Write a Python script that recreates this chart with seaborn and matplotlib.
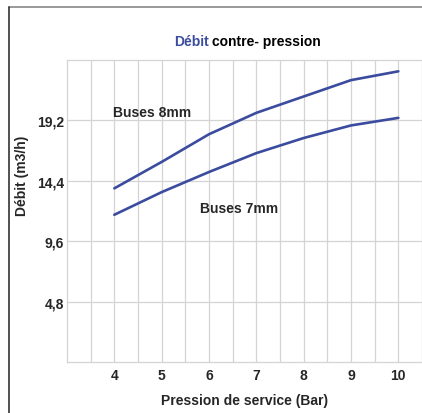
import pandas as pd
import matplotlib
matplotlib.use('Agg')
import matplotlib.pyplot as plt
from matplotlib.lines import Line2D
import seaborn as sns

# Données
pression = [4, 5, 6, 7, 8, 9, 10]
debit_8mm = [13.8, 15.9, 18.1, 19.8, 21.1, 22.4, 23.1]
debit_7mm = [11.7, 13.5, 15.1, 16.6, 17.8, 18.8, 19.4]
y_ticks = [4.8, 9.6, 14.4, 19.2]
y_labels = ['4,8', '9,6', '14,4', '19,2']

df = pd.DataFrame({
    'Pression': pression * 2,
    'Debit': debit_8mm + debit_7mm,
    'Buse': ['8mm'] * len(pression) + ['7mm'] * len(pression),
})

sns.set_style('white')
plt.rcParams['font.family'] = ['Liberation Sans', 'DejaVu Sans']
plt.rcParams['font.weight'] = 'bold'

bleu = '#3b4b9e'
grille = '#d4d4d4'
fs = 10

fig = plt.figure(figsize=(4.22, 4.14), dpi=100)
ax = fig.add_axes([67 / 422, 1 - 363 / 414, 1 - 67 / 422, (363 - 61) / 414])

sns.lineplot(data=df, x='Pression', y='Debit', hue='Buse',
             palette={'8mm': bleu, '7mm': bleu}, linewidth=1.9,
             legend=False, ax=ax)

ax.set_xlim(3, 10.5)
ax.set_ylim(0, 24)
ax.set_xticks(pression)
ax.set_xticks([v + 0.5 for v in range(3, 11)], minor=True)
ax.set_yticks(y_ticks)
ax.set_yticklabels(y_labels)
ax.grid(True, which='both', axis='x', color=grille, linewidth=0.9)
ax.grid(True, which='major', axis='y', color=grille, linewidth=0.9)
ax.tick_params(which='both', length=0, labelsize=fs)
ax.tick_params(axis='x', pad=4)
ax.tick_params(axis='y', pad=2)
for s in ax.spines.values():
    s.set_color(grille)
    s.set_linewidth(0.9)
ax.spines['right'].set_visible(False)

ax.set_xlabel('Pression de service (Bar)', fontsize=fs, fontweight='bold', labelpad=8)
ax.set_ylabel('Débit (m3/h)', fontsize=fs, fontweight='bold')
ax.yaxis.set_label_coords(-0.108, 0.62)

ax.text(3.97, 19.9, 'Buses 8mm', fontsize=fs, fontweight='bold', va='center', ha='left')
ax.text(5.81, 12.2, 'Buses 7mm', fontsize=fs, fontweight='bold', va='center', ha='left')

fig.text(209 / 422, 1 - 42 / 414, 'Débit', color=bleu, fontsize=fs, fontweight='bold',
         ha='right', va='center')
fig.text(212 / 422, 1 - 42 / 414, 'contre- pression', color='black', fontsize=fs,
         fontweight='bold', ha='left', va='center')

# Cadre extérieur
fig.add_artist(Line2D([9 / 422, 1], [1 - 8 / 414, 1 - 8 / 414], color='#888888', linewidth=1.2))
fig.add_artist(Line2D([9 / 422, 9 / 422], [0, 1 - 8 / 414], color='#333333', linewidth=1.2))

plt.savefig('out.png', dpi=100)
